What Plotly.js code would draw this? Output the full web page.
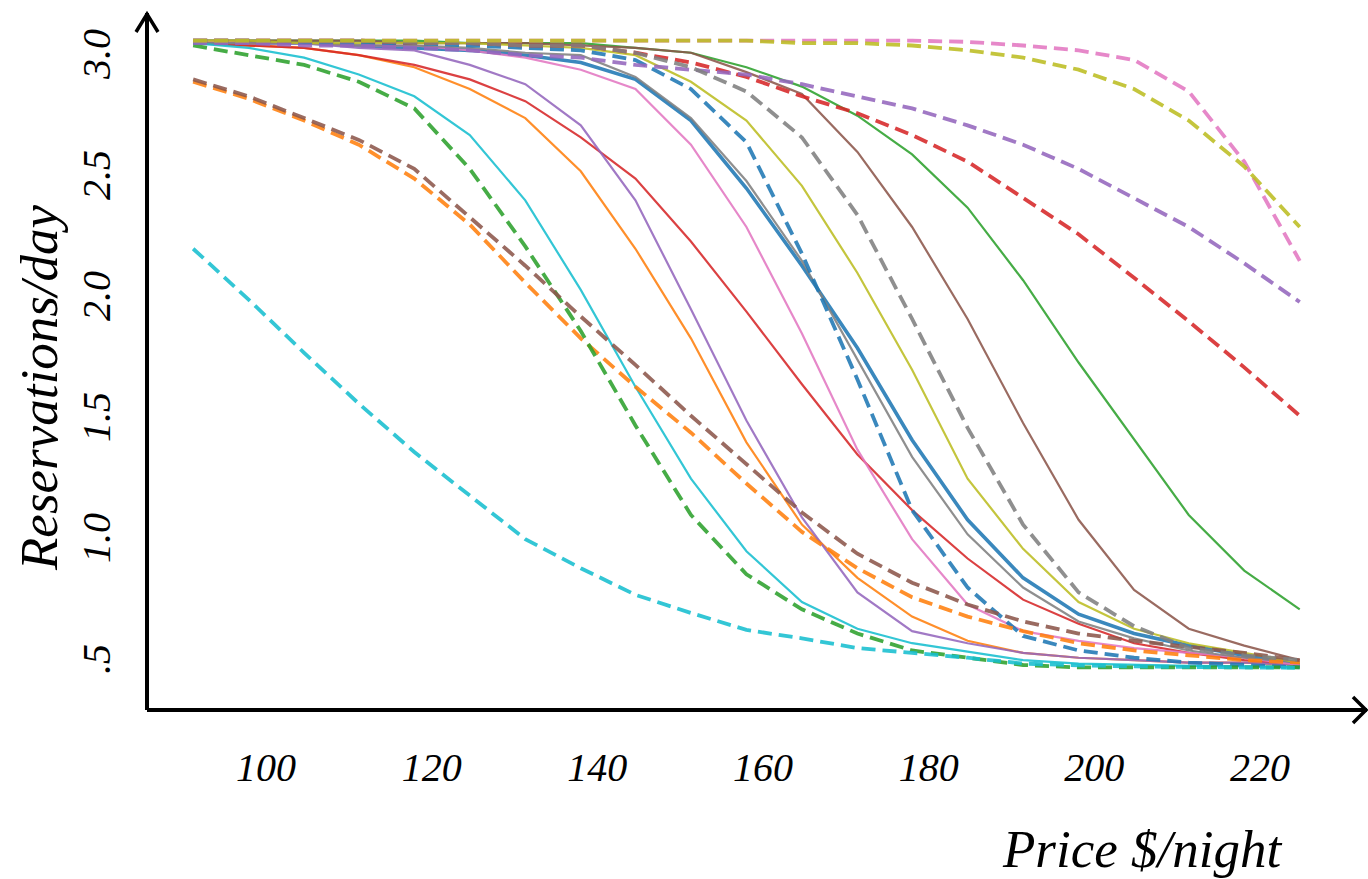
<!DOCTYPE html>
<html>
<head>
<meta charset="utf-8">
<script src="https://cdn.plot.ly/plotly-3.0.1.min.js"></script>
<style>
  html, body { margin: 0; padding: 0; background: #ffffff; }
  #chart { width: 1368px; height: 879px; }
</style>
</head>
<body>
<div id="chart"></div>
<script>
// ---------------- DATA ----------------
const price = [91.2, 97.9, 104.6, 111.2, 117.9, 124.6, 131.3, 138.0, 144.6, 151.3, 158.0,
               164.7, 171.4, 178.0, 184.7, 191.4, 198.1, 204.8, 211.4, 218.1, 224.8];

// solid curves
const blueSolid   = [3.07,3.07,3.07,3.06,3.05,3.04,3.02,2.99,2.92,2.75,2.47,2.15,1.81,1.43,1.10,0.86,0.71,0.63,0.58,0.54,0.50];
const orangeSolid = [3.07,3.06,3.05,3.02,2.97,2.88,2.76,2.54,2.22,1.85,1.42,1.08,0.86,0.70,0.60,0.55,0.53,0.52,0.51,0.51,0.50];
const greenSolid  = [3.08,3.08,3.08,3.08,3.08,3.07,3.07,3.07,3.05,3.03,2.97,2.89,2.77,2.61,2.39,2.09,1.75,1.43,1.12,0.89,0.73];
const redSolid    = [3.07,3.06,3.05,3.02,2.98,2.92,2.83,2.68,2.51,2.25,1.96,1.66,1.37,1.14,0.94,0.77,0.67,0.59,0.55,0.52,0.50];
const purpleSolid = [3.07,3.07,3.07,3.05,3.04,2.98,2.90,2.73,2.42,1.97,1.51,1.11,0.80,0.64,0.59,0.55,0.53,0.52,0.51,0.51,0.50];
const brownSolid  = [3.08,3.08,3.08,3.08,3.07,3.07,3.07,3.06,3.05,3.03,2.95,2.86,2.62,2.31,1.93,1.50,1.10,0.81,0.65,0.58,0.52];
const pinkSolid   = [3.08,3.07,3.07,3.06,3.06,3.04,3.01,2.96,2.88,2.65,2.31,1.87,1.39,1.02,0.75,0.64,0.60,0.57,0.55,0.53,0.50];
const graySolid   = [3.07,3.07,3.07,3.06,3.06,3.05,3.03,3.02,2.93,2.76,2.50,2.17,1.76,1.36,1.04,0.82,0.68,0.61,0.56,0.53,0.51];
const oliveSolid  = [3.08,3.08,3.07,3.07,3.07,3.07,3.06,3.05,3.02,2.91,2.75,2.48,2.12,1.72,1.27,0.98,0.76,0.65,0.59,0.55,0.51];
const cyanSolid   = [3.07,3.05,3.01,2.94,2.85,2.69,2.42,2.05,1.65,1.27,0.97,0.76,0.65,0.59,0.555,0.52,0.506,0.50,0.496,0.494,0.492];

// dashed curves
const blueDash   = [3.08,3.08,3.07,3.07,3.07,3.06,3.05,3.04,3.00,2.88,2.66,2.20,1.68,1.14,0.82,0.62,0.56,0.53,0.51,0.50,0.49];
const orangeDash = [2.91,2.84,2.75,2.65,2.51,2.32,2.08,1.85,1.65,1.46,1.25,1.05,0.90,0.78,0.70,0.64,0.59,0.56,0.54,0.52,0.51];
const greenDash  = [3.06,3.02,2.98,2.91,2.80,2.55,2.23,1.88,1.49,1.12,0.875,0.73,0.63,0.56,0.53,0.50,0.49,0.49,0.49,0.49,0.49];
const redDash    = [3.08,3.08,3.08,3.08,3.07,3.07,3.06,3.06,3.03,2.99,2.93,2.85,2.78,2.69,2.58,2.43,2.28,2.10,1.92,1.73,1.53];
const purpleDash = [3.07,3.07,3.06,3.06,3.05,3.04,3.02,3.01,2.98,2.96,2.94,2.90,2.85,2.80,2.73,2.65,2.55,2.43,2.31,2.16,2.00];
const brownDash  = [2.92,2.85,2.76,2.67,2.55,2.35,2.15,1.94,1.74,1.53,1.33,1.13,0.96,0.84,0.75,0.68,0.63,0.60,0.575,0.55,0.52];
const pinkDash   = [3.08,3.08,3.08,3.08,3.08,3.08,3.08,3.08,3.08,3.08,3.08,3.08,3.08,3.08,3.075,3.06,3.04,3.00,2.87,2.58,2.17];
const grayDash   = [3.08,3.08,3.08,3.08,3.07,3.07,3.06,3.06,3.03,2.97,2.87,2.68,2.36,1.93,1.48,1.08,0.80,0.66,0.57,0.54,0.52];
const oliveDash  = [3.08,3.08,3.08,3.08,3.08,3.08,3.08,3.08,3.08,3.08,3.08,3.07,3.07,3.06,3.04,3.01,2.96,2.88,2.75,2.56,2.31];
const cyanDash   = [2.22,2.01,1.79,1.58,1.38,1.20,1.02,0.90,0.79,0.715,0.645,0.61,0.57,0.55,0.53,0.506,0.498,0.494,0.492,0.49,0.488];

const xTickVals = [100, 120, 140, 160, 180, 200, 220];
const xTickText = ["100", "120", "140", "160", "180", "200", "220"];
const yTickVals = [0.5, 1.0, 1.5, 2.0, 2.5, 3.0];
const yTickText = [".5", "1.0", "1.5", "2.0", "2.5", "3.0"];

const xTitle = "Price $/night";
const yTitle = "Reservations/day";

// ---------------- STYLE ----------------
const C = {
  blue: "#1f77b4", orange: "#ff7f0e", green: "#2ca02c", red: "#d62728", purple: "#9467bd",
  brown: "#8c564b", pink: "#e377c2", gray: "#7f7f7f", olive: "#bcbd22", cyan: "#17becf"
};
const solidSeries = [
  [blueSolid, C.blue, 3.6], [orangeSolid, C.orange, 2.2], [greenSolid, C.green, 2.2],
  [redSolid, C.red, 2.2], [purpleSolid, C.purple, 2.2], [brownSolid, C.brown, 2.2],
  [pinkSolid, C.pink, 2.2], [graySolid, C.gray, 2.2], [oliveSolid, C.olive, 2.2], [cyanSolid, C.cyan, 2.2]
];
const dashSeries = [
  [blueDash, C.blue], [orangeDash, C.orange], [greenDash, C.green], [redDash, C.red],
  [purpleDash, C.purple], [brownDash, C.brown], [pinkDash, C.pink], [grayDash, C.gray],
  [oliveDash, C.olive], [cyanDash, C.cyan]
];

const traces = [];
solidSeries.forEach(([ys, col, w]) => traces.push({
  x: price, y: ys, type: "scatter", mode: "lines",
  line: { color: col, width: w }, opacity: 0.88, hoverinfo: "skip"
}));
dashSeries.forEach(([ys, col]) => traces.push({
  x: price, y: ys, type: "scatter", mode: "lines",
  line: { color: col, width: 3.8, dash: "14px,7px" }, opacity: 0.88, hoverinfo: "skip"
}));

// plot-area geometry in pixels
const L = 147, R = 1365, T = 15, B = 710;
const W = R - L, H = B - T;
const fx = px => (px - L) / W;
const fy = py => (B - py) / H;

const font = { family: "Liberation Serif, Times New Roman, serif", color: "#000", style: "italic" };

const layout = {
  width: 1368, height: 879,
  margin: { l: L, r: 1368 - R, t: T, b: 879 - B, pad: 0 },
  paper_bgcolor: "#ffffff", plot_bgcolor: "#ffffff",
  showlegend: false,
  xaxis: {
    range: [85.63, 232.68], showgrid: false, zeroline: false, showline: false,
    tickvals: xTickVals, ticktext: xTickText, ticks: "", ticklabelstandoff: 30,
    tickfont: Object.assign({ size: 40 }, font), fixedrange: true
  },
  yaxis: {
    range: [0.314, 3.186], showgrid: false, zeroline: false, showline: false,
    tickvals: yTickVals, ticktext: yTickText, ticks: "", tickangle: -90, ticklabelstandoff: 28,
    tickfont: Object.assign({ size: 40 }, font), fixedrange: true
  },
  shapes: [
    { type: "line", xref: "paper", yref: "paper", x0: fx(147), y0: fy(710), x1: fx(147), y1: fy(13),
      line: { color: "#000", width: 4 } },
    { type: "line", xref: "paper", yref: "paper", x0: fx(147), y0: fy(710), x1: fx(1367), y1: fy(710),
      line: { color: "#000", width: 4 } },
    { type: "path", xref: "paper", yref: "paper",
      path: `M ${fx(136)} ${fy(32)} L ${fx(147)} ${fy(14)} L ${fx(158)} ${fy(32)}`,
      line: { color: "#000", width: 3.5 } },
    { type: "path", xref: "paper", yref: "paper",
      path: `M ${fx(1353)} ${fy(697)} L ${fx(1366)} ${fy(710)} L ${fx(1353)} ${fy(723)}`,
      line: { color: "#000", width: 3.5 } }
  ],
  annotations: [
    { text: yTitle, xref: "paper", yref: "paper", x: fx(39), y: fy(388), xanchor: "center", yanchor: "middle",
      textangle: -90, showarrow: false, font: Object.assign({ size: 53 }, font) },
    { text: xTitle, xref: "paper", yref: "paper", x: fx(1142), y: fy(849), xanchor: "center", yanchor: "middle",
      showarrow: false, font: Object.assign({ size: 53 }, font) }
  ]
};

Plotly.newPlot("chart", traces, layout, { staticPlot: true, displayModeBar: false });
</script>
</body>
</html>
